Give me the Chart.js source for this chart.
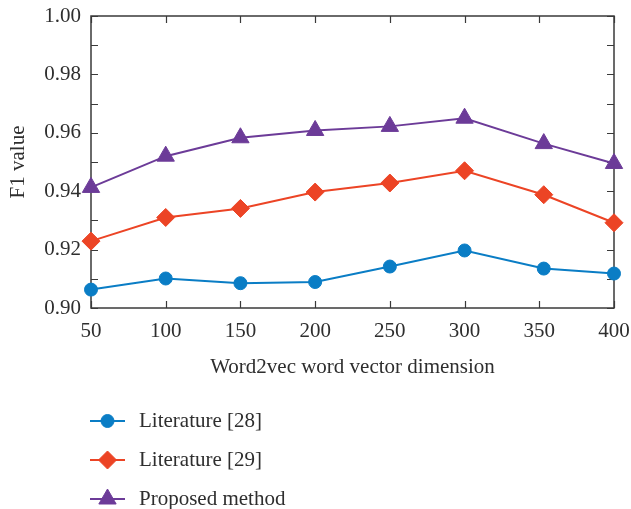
<!DOCTYPE html>
<html>
<head>
<meta charset="utf-8">
<script src="https://cdn.jsdelivr.net/npm/chart.js@4/dist/chart.umd.min.js"></script>
<style>
  html, body { margin: 0; padding: 0; background: #ffffff; }
  #wrap { width: 631px; height: 509px; position: relative; }
</style>
</head>
<body>
<div id="wrap"><canvas id="chart" width="631" height="509"></canvas></div>
<script>
// Word vector dimensions at which each method was evaluated
const dimensions = [50, 100, 150, 200, 250, 300, 353, 400];
const xTicks = [50, 100, 150, 200, 250, 300, 350, 400];

// F1 values per method
const literature28 = [0.9063, 0.9101, 0.9085, 0.9089, 0.9142, 0.9197, 0.9135, 0.9118];
const literature29 = [0.9229, 0.9310, 0.9341, 0.9397, 0.9428, 0.9470, 0.9388, 0.9292];
const proposed     = [0.9413, 0.9520, 0.9583, 0.9608, 0.9622, 0.9650, 0.9563, 0.9495];

const seriesNames = ['Literature [28]', 'Literature [29]', 'Proposed method'];

const FONT = 'Liberation Serif';
const FSIZE = 21;
const TEXT = '#2e2e2e';
const AXIS = '#3a3a3a';

function pts(ys) { return ys.map((y, i) => ({ x: dimensions[i], y })); }

function series(label, ys, color, style, radius) {
  return {
    label, data: pts(ys),
    borderColor: color, backgroundColor: color,
    borderWidth: 2, tension: 0, clip: false,
    pointStyle: style, pointRadius: radius, pointHoverRadius: radius,
    pointBackgroundColor: color, pointBorderColor: color, pointBorderWidth: 1
  };
}

// Box frame with inward tick marks on all four sides
const frame = {
  id: 'frame',
  beforeDatasetsDraw(chart) {
    const { ctx, chartArea: a, scales: { x, y } } = chart;
    const len = 7;
    ctx.save();
    ctx.strokeStyle = AXIS;
    ctx.lineWidth = 1.5;
    ctx.strokeRect(a.left, a.top, a.right - a.left, a.bottom - a.top);
    ctx.lineWidth = 1.2;
    ctx.beginPath();
    x.ticks.forEach(t => {
      const px = Math.round(x.getPixelForValue(t.value)) + 0.5;
      ctx.moveTo(px, a.bottom); ctx.lineTo(px, a.bottom - len);
      ctx.moveTo(px, a.top); ctx.lineTo(px, a.top + len);
    });
    y.ticks.forEach(t => {
      const py = Math.round(y.getPixelForValue(t.value)) + 0.5;
      ctx.moveTo(a.left, py); ctx.lineTo(a.left + len, py);
      ctx.moveTo(a.right, py); ctx.lineTo(a.right - len, py);
    });
    ctx.stroke();
    ctx.restore();
  }
};

// Vertical legend below the axis title
const stackedLegend = {
  id: 'stackedLegend',
  afterDraw(chart) {
    const { ctx } = chart;
    const rows = [421, 460, 499];
    ctx.save();
    chart.data.datasets.forEach((ds, i) => {
      const yy = rows[i];
      ctx.strokeStyle = ds.borderColor;
      ctx.lineWidth = 2;
      ctx.beginPath();
      ctx.moveTo(90, yy); ctx.lineTo(125, yy);
      ctx.stroke();
      ctx.fillStyle = ds.pointBackgroundColor;
      ctx.strokeStyle = ds.pointBorderColor;
      ctx.lineWidth = 1;
      Chart.helpers.drawPoint(ctx, {
        pointStyle: ds.pointStyle, radius: ds.pointRadius, borderWidth: 1, rotation: 0
      }, 107.5, yy);
      ctx.fillStyle = TEXT;
      ctx.font = FSIZE + 'px "' + FONT + '"';
      ctx.textAlign = 'left';
      ctx.textBaseline = 'middle';
      ctx.fillText(ds.label, 139, yy);
    });
    ctx.restore();
  }
};

new Chart(document.getElementById('chart'), {
  type: 'line',
  data: {
    datasets: [
      series(seriesNames[0], literature28, '#0a7dc5', 'circle', 6.5),
      series(seriesNames[1], literature29, '#ec4425', 'rectRot', 9),
      series(seriesNames[2], proposed, '#6c3b98', 'triangle', 10)
    ]
  },
  options: {
    responsive: false,
    animation: false,
    events: [],
    layout: { padding: { left: 0, top: 16, right: 17, bottom: 129 } },
    plugins: { legend: { display: false }, tooltip: { enabled: false } },
    scales: {
      x: {
        type: 'linear', min: 50, max: 400,
        afterBuildTicks(scale) { scale.ticks = xTicks.map(v => ({ value: v })); },
        afterFit(scale) {
          scale.height = 72;
          scale.paddingLeft = 0; scale.paddingRight = 0;
        },
        grid: { display: false, drawTicks: false },
        border: { display: false },
        ticks: { color: TEXT, font: { family: FONT, size: FSIZE }, padding: 11, maxRotation: 0, autoSkip: false },
        title: {
          display: true, text: 'Word2vec word vector dimension', color: TEXT,
          font: { family: FONT, size: FSIZE }, padding: { top: 0, bottom: 0 }
        }
      },
      y: {
        min: 0.9, max: 1.0,
        afterFit(scale) {
          scale.width = 91;
          scale.paddingTop = 0; scale.paddingBottom = 0;
        },
        grid: { display: false, drawTicks: false },
        border: { display: false },
        ticks: {
          stepSize: 0.01, autoSkip: false, color: TEXT, padding: 10,
          font: { family: FONT, size: FSIZE },
          callback(v) { return Math.round(v * 100) % 2 === 0 ? v.toFixed(2) : ''; }
        },
        title: {
          display: true, text: 'F1 value', color: TEXT,
          font: { family: FONT, size: FSIZE }, padding: { top: 6, bottom: 0 }
        }
      }
    }
  },
  plugins: [frame, stackedLegend]
});
</script>
</body>
</html>
